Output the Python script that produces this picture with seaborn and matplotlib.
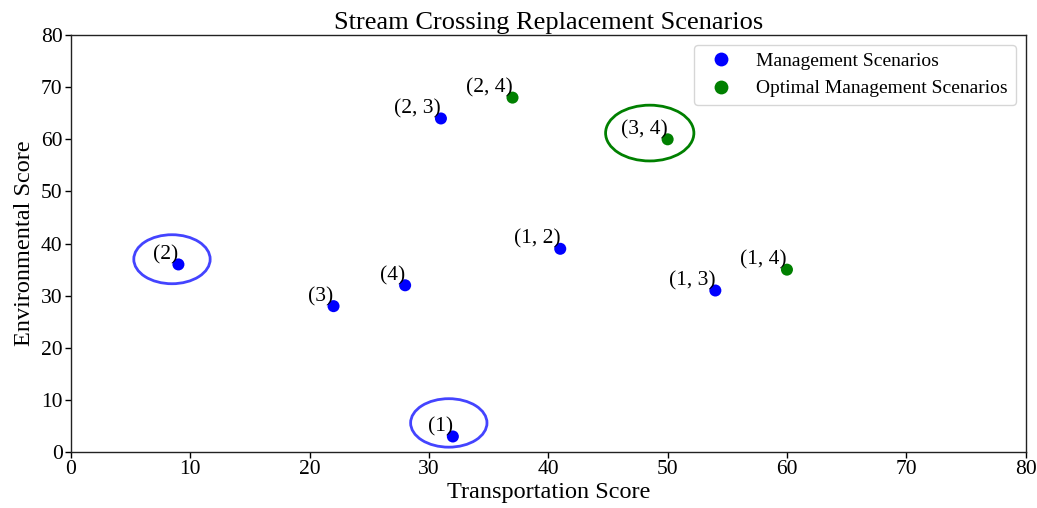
import matplotlib
matplotlib.use("Agg")
import matplotlib.pyplot as plt
from matplotlib.patches import Ellipse
import seaborn as sns
import pandas as pd

labels = ["(1)", "(2)", "(3)", "(4)", "(1, 2)", "(1, 3)", "(2, 3)", "(1, 4)", "(2, 4)", "(3, 4)"]
transport = [32, 9, 22, 28, 41, 54, 31, 60, 37, 50]
environment = [3, 36, 28, 32, 39, 31, 64, 35, 68, 60]
group = ["Management Scenarios"] * 7 + ["Optimal Management Scenarios"] * 3

df = pd.DataFrame({"Transportation Score": transport,
                   "Environmental Score": environment,
                   "group": group, "label": labels})

sns.set_style("white")
plt.rcParams["font.family"] = ["Liberation Serif", "DejaVu Serif"]
plt.rcParams["text.color"] = "black"
plt.rcParams["axes.labelcolor"] = "black"
plt.rcParams["xtick.color"] = "black"
plt.rcParams["ytick.color"] = "black"

fig = plt.figure(figsize=(10.37, 5.08), dpi=100)
ax = fig.add_axes([0.0685, 0.110, 0.9205, 0.821])

sns.scatterplot(data=df, x="Transportation Score", y="Environmental Score", hue="group",
                palette={"Management Scenarios": "blue", "Optimal Management Scenarios": "green"},
                s=75, edgecolor="none", ax=ax)

for x, y, t in zip(transport, environment, labels):
    ax.text(x, y, t, ha="right", va="bottom", fontsize=15.5, color="black")

ax.add_patch(Ellipse((8.46, 37.0), 6.4, 9.4, fill=False, edgecolor="#4444ff", lw=2))
ax.add_patch(Ellipse((31.66, 5.6), 6.4, 9.3, fill=False, edgecolor="#4444ff", lw=2))
ax.add_patch(Ellipse((48.5, 61.2), 7.4, 10.7, fill=False, edgecolor="green", lw=2))

ax.set_xlim(0, 80)
ax.set_ylim(0, 80)
ax.set_title("Stream Crossing Replacement Scenarios", fontsize=19, pad=4)
ax.set_xlabel("Transportation Score", fontsize=17.5, labelpad=2)
ax.set_ylabel("Environmental Score", fontsize=17.5, labelpad=4)
ax.tick_params(axis="both", labelsize=15.5, length=4, width=1, direction="out", bottom=True, left=True, pad=2)
for sp in ax.spines.values():
    sp.set_color("#222222")
    sp.set_linewidth(1)

ax.legend(loc="upper right", fontsize=14, frameon=True, markerscale=1.15)

fig.savefig("out.png", dpi=100)
